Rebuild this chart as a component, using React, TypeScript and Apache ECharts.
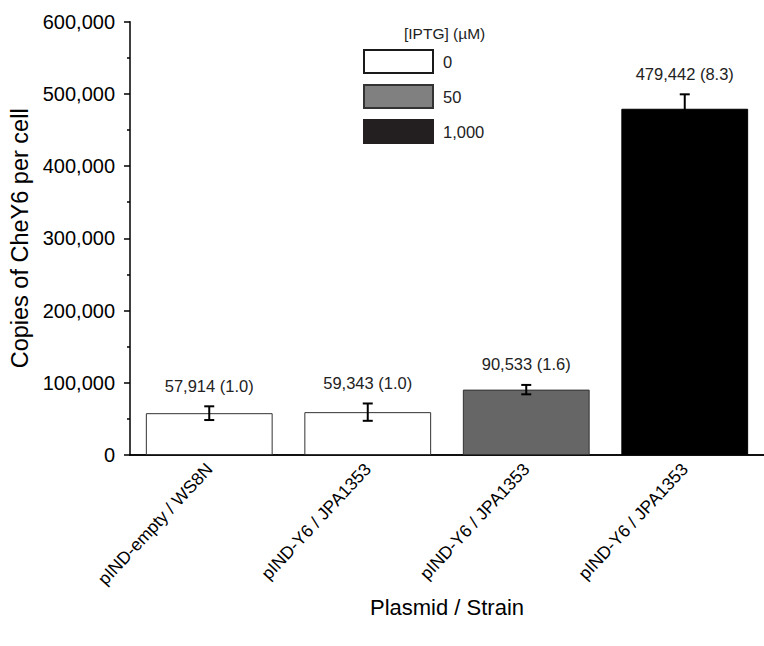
import React, { useEffect, useRef } from "react";
import * as echarts from "echarts";

const categories = [
  "pIND-empty / WS8N",
  "pIND-Y6 / JPA1353",
  "pIND-Y6 / JPA1353",
  "pIND-Y6 / JPA1353",
];
const values = [57914, 59343, 90533, 479442];
const errors = [9500, 12000, 6500, 20000];
const folds = ["1.0", "1.0", "1.6", "8.3"];
const iptgLevels = ["0", "50", "1,000"];
const levelOfBar = [0, 0, 1, 2];
const yTicks = [0, 100000, 200000, 300000, 400000, 500000, 600000];

const FONT = "'Liberation Sans', Arial, Helvetica, sans-serif";
const barColors = ["#ffffff", "#666666", "#000000"];
const barBorders = ["#333333", "#333333", "#000000"];
const legendColors = ["#ffffff", "#808080", "#231f20"];
const legendBorders = ["#1a1a1a", "#333333", "#231f20"];

const fmt = (v: number) => v.toLocaleString("en-US");

export default function App() {
  const ref = useRef<HTMLDivElement>(null);
  useEffect(() => {
    if (!ref.current) return;
    const chart = echarts.init(ref.current, undefined, { renderer: "svg" });
    const barSeries = iptgLevels.map((lvl, li) => ({
      name: lvl,
      type: "bar",
      stack: "all",
      xAxisIndex: 0,
      barWidth: "80%",
      data: values.map((v, i) => (levelOfBar[i] === li ? v : "-")),
      itemStyle: {
        color: barColors[li],
        borderColor: barBorders[li],
        borderWidth: 1,
      },
    }));
    const errData = values.map((v, i) => [i, v, errors[i], i]);
    chart.setOption({
      animation: false,
      textStyle: { fontFamily: FONT },
      title: {
        text: "[IPTG] (\u00b5M)",
        left: 404,
        top: 25,
        padding: 0,
        textStyle: { fontSize: 15.5, fontWeight: "normal", color: "#222", fontFamily: FONT },
      },
      legend: {
        orient: "vertical",
        left: 363,
        top: 49,
        padding: 0,
        itemWidth: 69,
        itemHeight: 23,
        itemGap: 10,
        selectedMode: false,
        icon: "rect",
        textStyle: { fontSize: 16.5, color: "#222", fontFamily: FONT, padding: [0, 0, 0, 5] },
        data: iptgLevels.map((lvl, li) => ({
          name: lvl,
          itemStyle: {
            color: legendColors[li],
            borderColor: legendBorders[li],
            borderWidth: 2,
          },
        })),
      },
      grid: { left: 129, right: -10, top: 21.7, bottom: 191, containLabel: false },
      xAxis: [
        {
          type: "category",
          data: categories,
          position: "bottom",
          name: "Plasmid / Strain",
          nameLocation: "middle",
          nameGap: 141,
          nameMoveOverlap: false,
          nameTextStyle: { fontSize: 22, color: "#000", fontFamily: FONT },
          axisLine: { lineStyle: { color: "#000", width: 1.5 } },
          axisTick: { alignWithLabel: true, length: 8, lineStyle: { color: "#000", width: 1.5 } },
          axisLabel: {
            rotate: 47,
            fontSize: 17.5,
            color: "#000",
            margin: 11,
            fontFamily: FONT,
          },
          splitLine: { show: false },
        },
        {
          type: "category",
          data: categories,
          position: "bottom",
          axisLine: { show: true, lineStyle: { color: "#000", width: 1.5 } },
          axisTick: { alignWithLabel: false, length: 5, lineStyle: { color: "#000", width: 1.5 } },
          axisLabel: { show: false },
          splitLine: { show: false },
        },
      ],
      yAxis: {
        type: "value",
        min: 0,
        max: 600000,
        interval: 100000,
        name: "Copies of CheY6 per cell",
        nameLocation: "middle",
        nameGap: 98,
        nameMoveOverlap: false,
        nameTextStyle: { fontSize: 23.5, color: "#000", fontFamily: FONT },
        axisLine: { show: true, lineStyle: { color: "#000", width: 1.5 } },
        axisTick: { show: true, length: 6, lineStyle: { color: "#000", width: 1.5 } },
        minorTick: { show: true, splitNumber: 2, length: 3, lineStyle: { color: "#000", width: 1.5 } },
        axisLabel: {
          fontSize: 20,
          color: "#000",
          margin: 15,
          fontFamily: FONT,
          formatter: (v: number) => (yTicks.includes(v) ? fmt(v) : ""),
        },
        splitLine: { show: false },
      },
      series: [
        ...barSeries,
        {
          type: "custom",
          xAxisIndex: 0,
          z: 10,
          clip: false,
          data: errData,
          renderItem: (params: any, api: any) => {
            const x = api.value(0);
            const v = api.value(1);
            const e = api.value(2);
            const idx = api.value(3);
            const top = api.coord([x, v + e]);
            const bot = api.coord([x, v - e]);
            const cap = 5;
            const ls = { stroke: "#000", lineWidth: 2 };
            return {
              type: "group",
              children: [
                { type: "line", shape: { x1: top[0], y1: top[1], x2: bot[0], y2: bot[1] }, style: ls },
                { type: "line", shape: { x1: top[0] - cap, y1: top[1], x2: top[0] + cap, y2: top[1] }, style: ls },
                { type: "line", shape: { x1: bot[0] - cap, y1: bot[1], x2: bot[0] + cap, y2: bot[1] }, style: ls },
                {
                  type: "text",
                  style: {
                    text: `${fmt(values[idx])} (${folds[idx]})`,
                    x: top[0],
                    y: top[1] - 12,
                    align: "center",
                    verticalAlign: "bottom",
                    fontSize: 16.5,
                    fill: "#222",
                    fontFamily: FONT,
                  },
                },
              ],
            };
          },
        },
      ],
    });
    return () => chart.dispose();
  }, []);
  return (
    <div
      ref={ref}
      style={{ position: "fixed", left: 0, top: 0, width: 764, height: 646, background: "#fff" }}
    />
  );
}
